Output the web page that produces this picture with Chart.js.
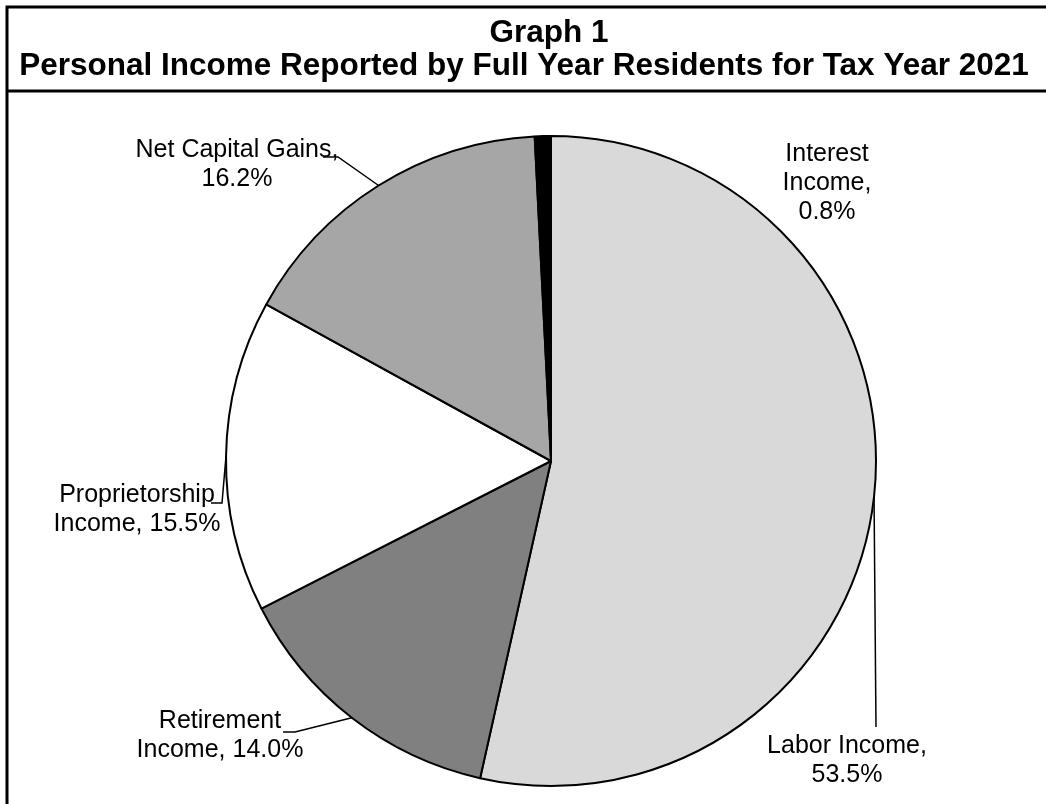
<!DOCTYPE html>
<html>
<head>
<meta charset="utf-8">
<script src="https://cdn.jsdelivr.net/npm/chart.js@4.4.1/dist/chart.umd.min.js"></script>
<style>
  html, body { margin: 0; padding: 0; background: #ffffff; }
  #wrap { width: 1046px; height: 804px; position: relative; }
</style>
</head>
<body>
<div id="wrap"><canvas id="chart" width="1046" height="804"></canvas></div>
<script>
// Shares of personal income, full year residents, tax year 2021 (percent)
const categories = ['Labor Income', 'Retirement Income', 'Proprietorship Income', 'Net Capital Gains', 'Interest Income'];
const shares = [53.5, 14.0, 15.5, 16.2, 0.8];
const sliceColors = ['#d9d9d9', '#808080', '#ffffff', '#a6a6a6', '#000000'];
const titleLines = ['Graph 1', 'Personal Income Reported by Full Year Residents for Tax Year 2021'];

const pct = i => shares[i].toFixed(1) + '%';

// How each category label is broken into lines
const labelText = [
  ['Labor Income,', pct(0)],
  ['Retirement', 'Income, ' + pct(1)],
  ['Proprietorship', 'Income, ' + pct(2)],
  ['Net Capital Gains,', pct(3)],
  ['Interest', 'Income,', pct(4)]
];

// Label placement: text centre, first baseline, and the bend points of the leader line
const labelPlacement = [
  { cx: 847, y: 753, leader: [[876, 727]] },
  { cx: 220, y: 728, leader: [[295, 732], [283, 732]] },
  { cx: 137, y: 502, leader: [[222, 503], [211, 503]] },
  { cx: 237, y: 157, leader: [[338, 157], [323, 157]] },
  { cx: 827, y: 161, leader: null }
];

const FONT = '"Liberation Sans", Arial, sans-serif';

const framePlugin = {
  id: 'frame',
  beforeDraw(chart) {
    const ctx = chart.ctx;
    ctx.save();
    ctx.fillStyle = '#ffffff';
    ctx.fillRect(0, 0, chart.width, chart.height);
    ctx.strokeStyle = '#000000';
    ctx.lineWidth = 3;
    ctx.beginPath();
    ctx.moveTo(7, chart.height + 2);
    ctx.lineTo(7, 7);
    ctx.lineTo(chart.width + 2, 7);
    ctx.moveTo(7, 91);
    ctx.lineTo(chart.width + 2, 91);
    ctx.stroke();

    ctx.fillStyle = '#000000';
    ctx.textAlign = 'center';
    ctx.textBaseline = 'alphabetic';
    ctx.font = 'bold 31.5px ' + FONT;
    ctx.fillText(titleLines[0], 549, 42);
    ctx.fillText(titleLines[1], 524, 75);
    ctx.restore();
  }
};

const labelPlugin = {
  id: 'sliceLabels',
  afterDatasetsDraw(chart) {
    const ctx = chart.ctx;
    const arcs = chart.getDatasetMeta(0).data;
    ctx.save();
    arcs.forEach((arc, i) => {
      const p = arc.getProps(['x', 'y', 'startAngle', 'endAngle', 'outerRadius'], true);
      const mid = (p.startAngle + p.endAngle) / 2;
      const place = labelPlacement[i];
      if (place.leader) {
        ctx.strokeStyle = '#000000';
        ctx.lineWidth = 1.5;
        ctx.beginPath();
        ctx.moveTo(p.x + Math.cos(mid) * p.outerRadius, p.y + Math.sin(mid) * p.outerRadius);
        place.leader.forEach(pt => ctx.lineTo(pt[0], pt[1]));
        ctx.stroke();
      }
      ctx.fillStyle = '#000000';
      ctx.font = '25px ' + FONT;
      ctx.textAlign = 'center';
      ctx.textBaseline = 'alphabetic';
      labelText[i].forEach((line, k) => ctx.fillText(line, place.cx, place.y + k * 29));
    });
    ctx.restore();
  }
};

new Chart(document.getElementById('chart'), {
  type: 'pie',
  data: {
    labels: categories,
    datasets: [{
      data: shares,
      backgroundColor: sliceColors,
      borderColor: '#000000',
      borderWidth: 2
    }]
  },
  options: {
    responsive: false,
    animation: false,
    devicePixelRatio: 1,
    radius: 325,
    layout: { padding: { left: 226, right: 170, top: 136, bottom: 18 } },
    plugins: {
      legend: { display: false },
      title: { display: false },
      tooltip: { enabled: false }
    }
  },
  plugins: [framePlugin, labelPlugin]
});
</script>
</body>
</html>
